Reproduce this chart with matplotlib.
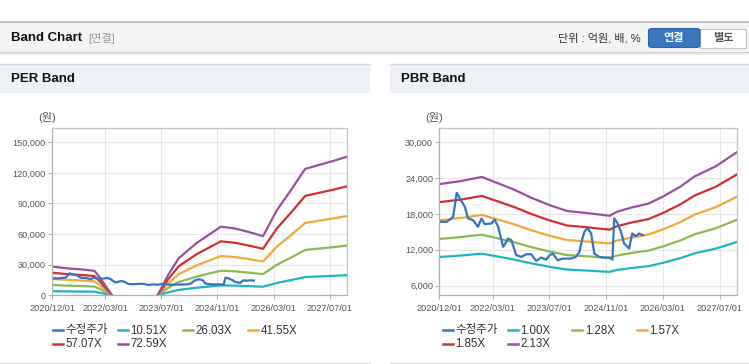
import numpy as np
import matplotlib
matplotlib.use('Agg')
import matplotlib.pyplot as plt
from matplotlib.lines import Line2D
from matplotlib.patches import Rectangle, FancyBboxPatch
from matplotlib.ticker import FuncFormatter

plt.rcParams['font.family'] = ['Liberation Sans', 'Noto Sans CJK KR']

# x axis: months since 2020/12
tick_pos = [0, 15, 31, 47, 63, 79]
tick_labels = ['2020/12/01', '2022/03/01', '2023/07/01', '2024/11/01', '2026/03/01', '2027/07/01']

# adjusted price (shared by both charts)
price_month = [0, 2.1, 3.9, 4.9, 5.8, 7.2, 8.1, 9.5, 10.9, 11.9, 12.8, 14.7, 15.6, 16.6, 18, 19.4,
               20.3, 21.7, 23.1, 24.5, 25.9, 27.3, 28.7, 30.1, 31.1, 32, 33.4, 34.8, 37.1, 38.5,
               39.5, 40.2, 40.9, 41.8, 42.8, 43.7, 45.1, 46.5, 47.9, 48.8, 49.3, 50.2, 51.2, 52.1,
               53.5, 54.4, 55.4, 56.3, 57.4]
price = [16690, 16690, 17530, 21550, 20600, 19200, 17250, 16970, 15850, 17250, 16300, 16410, 17080,
         15850, 12490, 13890, 13610, 11090, 10810, 11260, 11260, 10140, 10700, 10360, 11090, 11370,
         10250, 10530, 10530, 10810, 11650, 13610, 15010, 15680, 14730, 11370, 10810, 10700, 10700,
         10360, 17250, 16520, 15010, 13050, 12210, 14730, 14280, 14730, 14450]

# PER band
per_month = [0, 4, 8, 12, 13.5, 17, None, 30, 33, 36, 41, 44, 48, 52, 56, 60, 64, 68, 72, 76, 80, 84]
per_labels = ['10.51X', '26.03X', '41.55X', '57.07X', '72.59X']
per_1051 = [4100, 3800, 3700, 3500, 2500, 0, None, 0, 2900, 5300, 7400, 8400, 9700, 9500, 9000, 8400,
            12100, 15000, 17900, 18500, 19100, 19700]
per_2603 = [10100, 9500, 9100, 8600, 6300, 0, None, 0, 7200, 13000, 18300, 20800, 24100, 23500, 22200,
            20800, 30000, 37000, 44400, 45800, 47200, 48800]
per_4155 = [16100, 15200, 14600, 13700, 10000, 0, None, 0, 11400, 20800, 29200, 33200, 38500, 37500,
            35500, 33200, 47900, 59100, 70900, 73200, 75400, 77800]
per_5707 = [22100, 20800, 20000, 18900, 13800, 0, None, 0, 15700, 28500, 40100, 45600, 52900, 51500,
            48700, 45600, 65800, 81200, 97400, 100500, 103500, 106900]
per_7259 = [28100, 26500, 25500, 24000, 17500, 0, None, 0, 20000, 36300, 51000, 58000, 67300, 65500,
            62000, 58000, 83700, 103300, 123900, 127800, 131700, 136000]

# PBR band
pbr_month = [0, 6, 12, 15, 21, 26, 31, 36, 41, 48, 50, 54, 59, 63, 68, 72, 78, 84]
pbr_labels = ['1.00X', '1.28X', '1.57X', '1.85X', '2.13X']
pbr_100 = [10800, 11030, 11360, 11030, 10380, 9720, 9160, 8690, 8540, 8310, 8620, 8940, 9270, 9810,
           10610, 11410, 12210, 13330]
pbr_128 = [13820, 14120, 14540, 14120, 13280, 12440, 11720, 11120, 10940, 10640, 11030, 11450, 11870,
           12560, 13580, 14600, 15620, 17070]
pbr_157 = [16950, 17320, 17840, 17320, 16290, 15260, 14370, 13640, 13420, 13050, 13530, 14040, 14560,
           15410, 16660, 17910, 19160, 20930]
pbr_185 = [19980, 20410, 21020, 20410, 19190, 17980, 16940, 16070, 15810, 15370, 15940, 16540, 17150,
           18150, 19630, 21100, 22580, 24670]
pbr_213 = [23000, 23500, 24200, 23500, 22100, 20700, 19500, 18500, 18200, 17700, 18350, 19050, 19750,
           20900, 22600, 24300, 26000, 28400]

price_color = '#3474c4'
band_colors = ['#1eb3c6', '#8cba52', '#f5a83a', '#d2302e', '#9a4fa3']

W, H = 749, 364
fig = plt.figure(figsize=(W / 100, H / 100), dpi=100)
fig.patch.set_facecolor('white')


def fx(x):
    return x / W


def fy(y):
    return 1 - y / H


def rect(x0, y0, x1, y1, **kw):
    fig.add_artist(Rectangle((fx(x0), fy(y1)), fx(x1 - x0), (y1 - y0) / H,
                             transform=fig.transFigure, **kw))


def hline(x0, x1, y, color, lw=1):
    fig.add_artist(Line2D([fx(x0), fx(x1)], [fy(y), fy(y)], transform=fig.transFigure,
                          color=color, lw=lw))


# top header bar
rect(0, 22, W, 52, facecolor='#f4f4f4', edgecolor='none')
hline(0, W, 22, '#b9b9b9', 1.2)
hline(0, W, 52.5, '#cfcfcf', 1.5)
hline(0, W, 54, '#ececec', 1.2)
fig.text(fx(11), fy(38), 'Band Chart', fontsize=9.5, fontweight='bold', color='#111',
         va='center', ha='left')
fig.text(fx(88), fy(38), '[연결]', fontsize=8, color='#999', va='center', ha='left')
fig.text(fx(641), fy(38), '단위 : 억원, 배, %', fontsize=8, color='#333', va='center', ha='right')
fig.add_artist(FancyBboxPatch((fx(700), fy(47.5)), fx(46), 19 / H, boxstyle='square,pad=0',
                              transform=fig.transFigure, facecolor='white', edgecolor='#c6c6c6', lw=0.8))
fig.add_artist(FancyBboxPatch((fx(648.5), fy(47.5)), fx(51.5), 19 / H, boxstyle='round,pad=0,rounding_size=0.006',
                              transform=fig.transFigure, facecolor='#3877bb', edgecolor='#2d65a3', lw=0.8))
fig.text(fx(674), fy(38), '연결', fontsize=8, fontweight='bold', color='white', va='center', ha='center')
fig.text(fx(723), fy(38), '별도', fontsize=8, fontweight='bold', color='#555', va='center', ha='center')

# panels
for px0, px1, title in [(0, 370, 'PER Band'), (390, W, 'PBR Band')]:
    rect(px0, 64, px1, 92.5, facecolor='#eef1f6', edgecolor='none')
    hline(px0, px1, 64.3, '#d8d8d8', 1)
    hline(px0, px1, 362.5, '#dedede', 1)
    fig.text(fx(px0 + 11), fy(79), title, fontsize=9.5, fontweight='bold', color='#111',
             va='center', ha='left')


def style_axes(ax):
    ax.set_facecolor('white')
    for s in ax.spines.values():
        s.set_color('#c4c4c4')
        s.set_linewidth(0.9)
    ax.spines['left'].set_color('#b0b0b0')
    ax.spines['bottom'].set_color('#b0b0b0')
    ax.grid(True, color='#e6e6e6', lw=0.8)
    ax.set_axisbelow(True)
    ax.set_xlim(0, 84)
    ax.set_xticks(tick_pos)
    ax.set_xticklabels(tick_labels)
    ax.tick_params(axis='both', colors='#b0b0b0', labelcolor='#555', labelsize=6.6,
                   length=3, width=0.8)
    ax.tick_params(axis='x', pad=3)
    ax.tick_params(axis='y', pad=1.5)
    ax.yaxis.set_major_formatter(FuncFormatter(lambda v, p: f'{int(v):,}'))


def legend(x0, step, labels, colors):
    for i, (lab, col) in enumerate(zip(labels, colors)):
        row, colm = divmod(i, 4)
        x = x0 + colm * step
        y = 330 + row * 13.5
        fig.add_artist(Line2D([fx(x), fx(x + 10)], [fy(y), fy(y)], transform=fig.transFigure,
                              color=col, lw=1.8))
        fig.text(fx(x + 12.5), fy(y + 0.5), lab, fontsize=8.3, color='#333', va='center', ha='left')


# PER chart
ax1 = fig.add_axes([fx(52.3), fy(295.3), fx(295), 167 / H])
style_axes(ax1)
pm = np.array(per_month, dtype=float)
for vals, col in zip([per_1051, per_2603, per_4155, per_5707, per_7259], band_colors):
    ax1.plot(pm, np.array(vals, dtype=float), color=col, lw=1.6)
ax1.plot(price_month, price, color=price_color, lw=1.6)
ax1.set_ylim(0, 163700)
ax1.set_yticks(np.arange(0, 150001, 30000))
fig.text(fx(47), fy(118), '(원)', fontsize=8, color='#555', va='center', ha='center')
legend(53, 65, ['수정주가'] + per_labels, [price_color] + band_colors)

# PBR chart
ax2 = fig.add_axes([fx(439.3), fy(295.3), fx(298), 167 / H])
style_axes(ax2)
for vals, col in zip([pbr_100, pbr_128, pbr_157, pbr_185, pbr_213], band_colors):
    ax2.plot(pbr_month, vals, color=col, lw=1.6)
ax2.plot(price_month, price, color=price_color, lw=1.6)
ax2.set_ylim(4380, 32350)
ax2.set_yticks(np.arange(6000, 30001, 6000))
fig.text(fx(434), fy(118), '(원)', fontsize=8, color='#555', va='center', ha='center')
legend(443, 64.7, ['수정주가'] + pbr_labels, [price_color] + band_colors)

fig.savefig('out.png', dpi=100)
